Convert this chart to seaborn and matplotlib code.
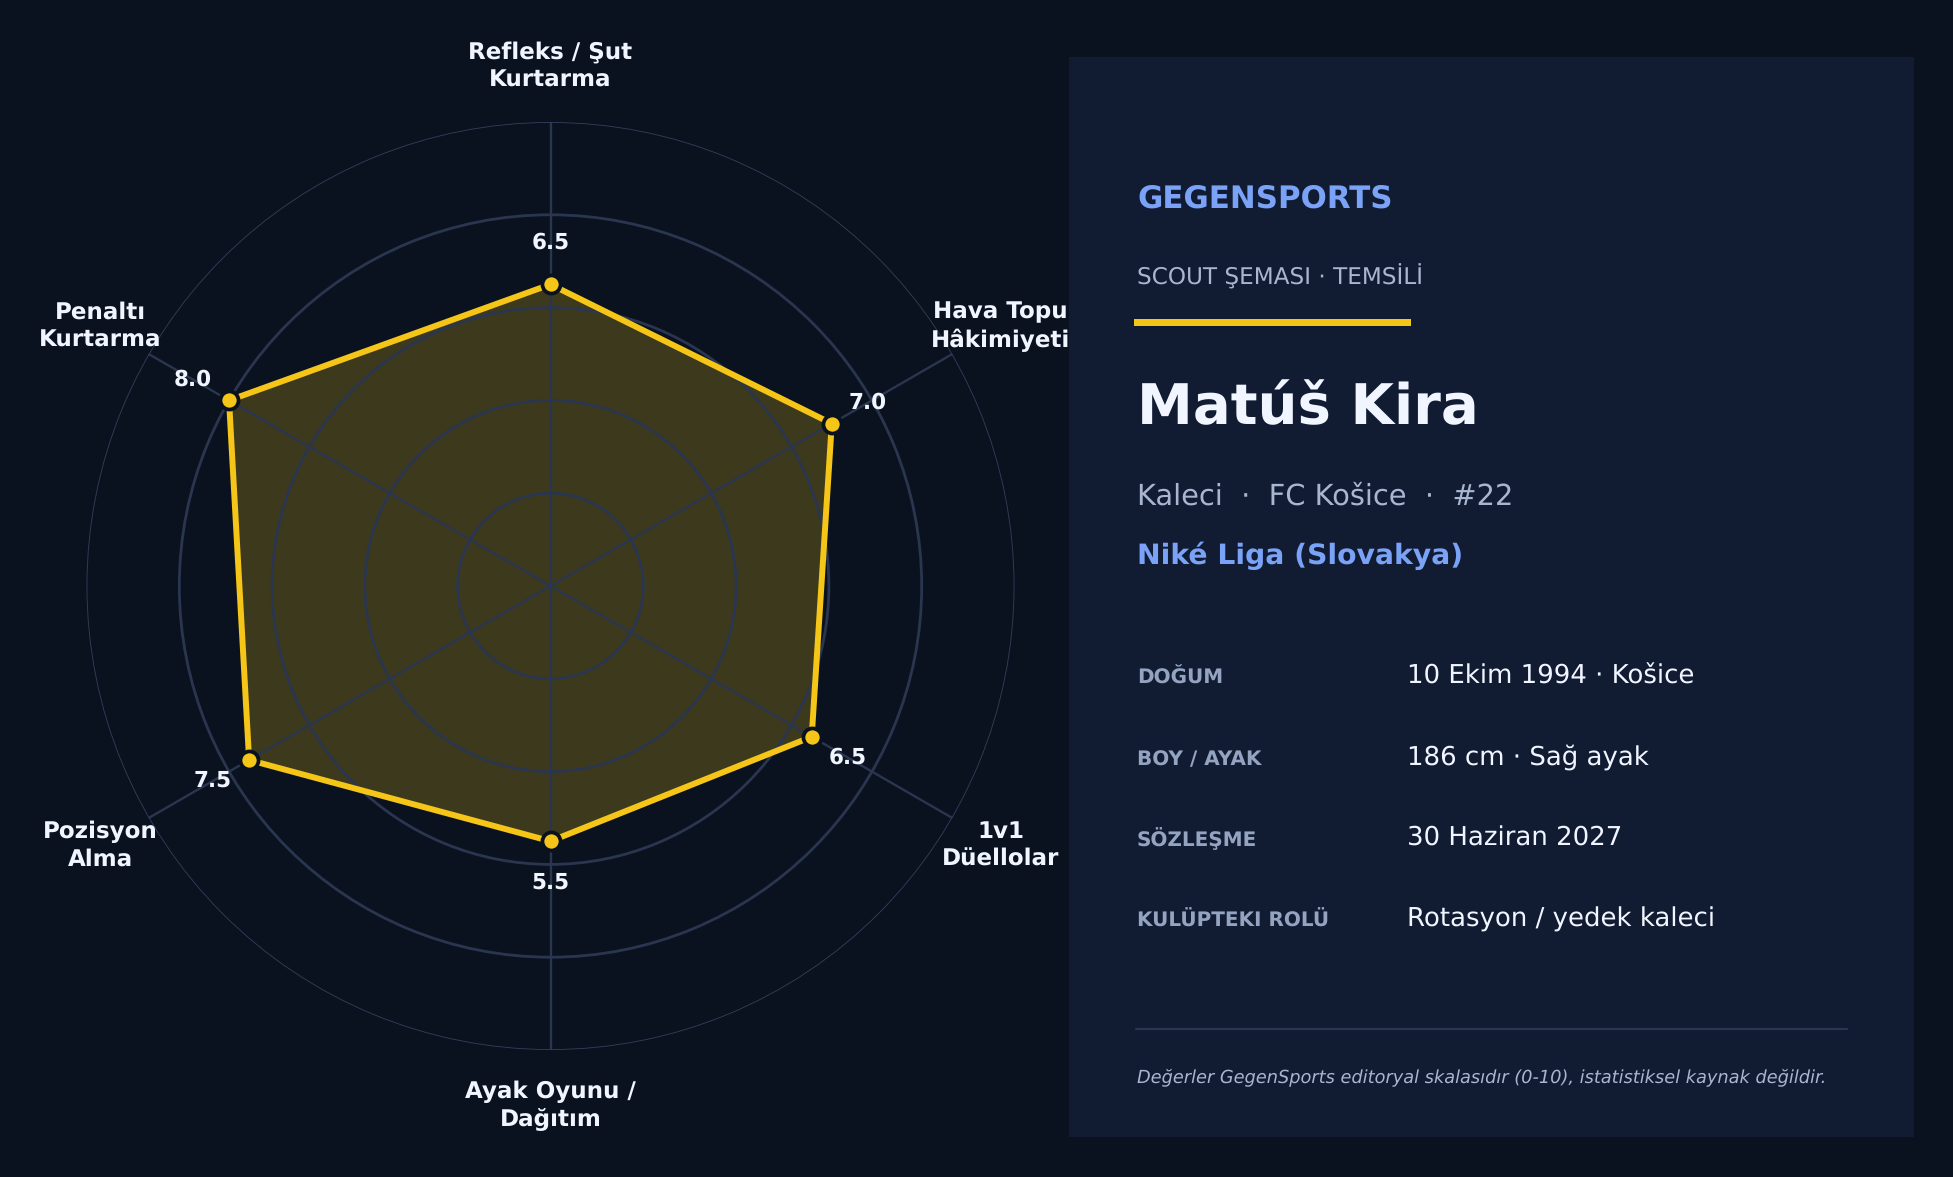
#!/usr/bin/env python3
import numpy as np
import seaborn as sns
import matplotlib

matplotlib.use("Agg")
import matplotlib.patches as mpatches
import matplotlib.pyplot as plt

# Chart data.
categories = [
    "Refleks / Şut\nKurtarma",
    "Hava Topu\nHâkimiyeti",
    "1v1\nDüellolar",
    "Ayak Oyunu /\nDağıtım",
    "Pozisyon\nAlma",
    "Penaltı\nKurtarma",
]
scores = [6.5, 7.0, 6.5, 5.5, 7.5, 8.0]
ring_ticks = [2, 4, 6, 8, 10]

info_labels = ["DOĞUM", "BOY / AYAK", "SÖZLEŞME", "KULÜPTEKI ROLÜ"]
info_values = [
    "10 Ekim 1994 · Košice",
    "186 cm · Sağ ayak",
    "30 Haziran 2027",
    "Rotasyon / yedek kaleci",
]
info_rows_y = [684, 765, 846, 927]

# Colors.
BG = "#0a121f"
PANEL = "#111c33"
GRID = "#2a3650"
GOLD = "#f5c518"
BLUE = "#7aa2f7"
MUTED = "#a9b6d0"
LABEL_MUTED = "#94a3c0"
WHITE = "#f1f5ff"

W, H = 1953, 1177
CX, CY, R = 550.5, 586, 464

sns.set_theme(style="dark")
plt.rcParams["font.family"] = ["DejaVu Sans"]
plt.rcParams["text.hinting"] = "no_hinting"

fig = plt.figure(figsize=(W / 100, H / 100), dpi=100, facecolor=BG)

# Radar chart.
ax = fig.add_axes(
    [(CX - R) / W, 1 - (CY + R) / H, 2 * R / W, 2 * R / H],
    projection="polar",
    facecolor=BG,
    zorder=1,
)
ax.set_theta_zero_location("N")
ax.set_theta_direction(-1)
ax.set_ylim(0, 10)

angles = np.deg2rad(np.arange(len(categories)) * 360 / len(categories))
ax.set_xticks(angles, labels=[])
ax.set_yticks(ring_ticks, labels=[])
ax.set_axisbelow(False)
ax.grid(True, color=GRID, linewidth=2.0)
ax.xaxis.grid(True, color=GRID, linewidth=1.7)
ax.yaxis.get_gridlines()[-1].set_linewidth(1.3)
ax.yaxis.get_gridlines()[-1].set_color("#313c58")
ax.spines["polar"].set_visible(False)
ax.tick_params(length=0)

theta_closed = np.append(angles, angles[0])
r_closed = np.append(scores, scores[0])

ax.fill(theta_closed, r_closed, color=GOLD, alpha=0.22, linewidth=0, zorder=1)
sns.lineplot(
    x=theta_closed,
    y=r_closed,
    sort=False,
    estimator=None,
    color=GOLD,
    linewidth=4.3,
    ax=ax,
    zorder=3,
)
sns.scatterplot(
    x=angles,
    y=scores,
    color=GOLD,
    edgecolor=BG,
    linewidth=2.7,
    s=170,
    ax=ax,
    zorder=4,
    clip_on=False,
)
ax.set_xlabel("")
ax.set_ylabel("")

for angle, label, score in zip(angles, categories, scores):
    ax.text(angle, 11.2, label, color=WHITE, fontsize=16.6, fontweight="bold",
            ha="center", va="center", linespacing=1.31, clip_on=False, zorder=5)
    ax.text(angle, score + 0.9, f"{score:.1f}", color=WHITE, fontsize=15.5,
            fontweight="bold", ha="center", va="center", clip_on=False, zorder=5)

# Info panel, drawn in pixel coordinates on top of the radar.
ov = fig.add_axes([0, 0, 1, 1], zorder=2)
ov.set_xlim(0, W)
ov.set_ylim(H, 0)
ov.axis("off")
ov.patch.set_alpha(0)

ov.add_patch(mpatches.Rectangle((1069, 57), 844.5, 1080, facecolor=PANEL, edgecolor="none"))
ov.add_patch(mpatches.Rectangle((1134, 319), 277, 7, facecolor=GOLD, edgecolor="none"))
ov.plot([1136, 1847], [1029, 1029], color=GRID, linewidth=1.6)

TX = 1137
ov.text(TX, 207.5, "GEGENSPORTS", color=BLUE, fontsize=22.2, fontweight="bold")
ov.text(TX, 284.5, "SCOUT ŞEMASI · TEMSİLİ", color=MUTED, fontsize=16.7)
ov.text(TX, 424, "Matúš Kira", color=WHITE, fontsize=40.4, fontweight="bold")
ov.text(TX, 505, "Kaleci  ·  FC Košice  ·  #22", color=MUTED, fontsize=20.75)
ov.text(TX, 564, "Niké Liga (Slovakya)", color=BLUE, fontsize=20.3, fontweight="bold")

for row_y, label, value in zip(info_rows_y, info_labels, info_values):
    ov.text(TX, row_y, label, color=LABEL_MUTED, fontsize=14.4, fontweight="bold")
    ov.text(1407, row_y, value, color=WHITE, fontsize=18.75)

ov.text(TX, 1082, "Değerler GegenSports editoryal skalasıdır (0-10), istatistiksel kaynak değildir.",
        color=MUTED, fontsize=12.8, style="italic")

fig.savefig("out.png", dpi=100, facecolor=BG)
plt.close(fig)
